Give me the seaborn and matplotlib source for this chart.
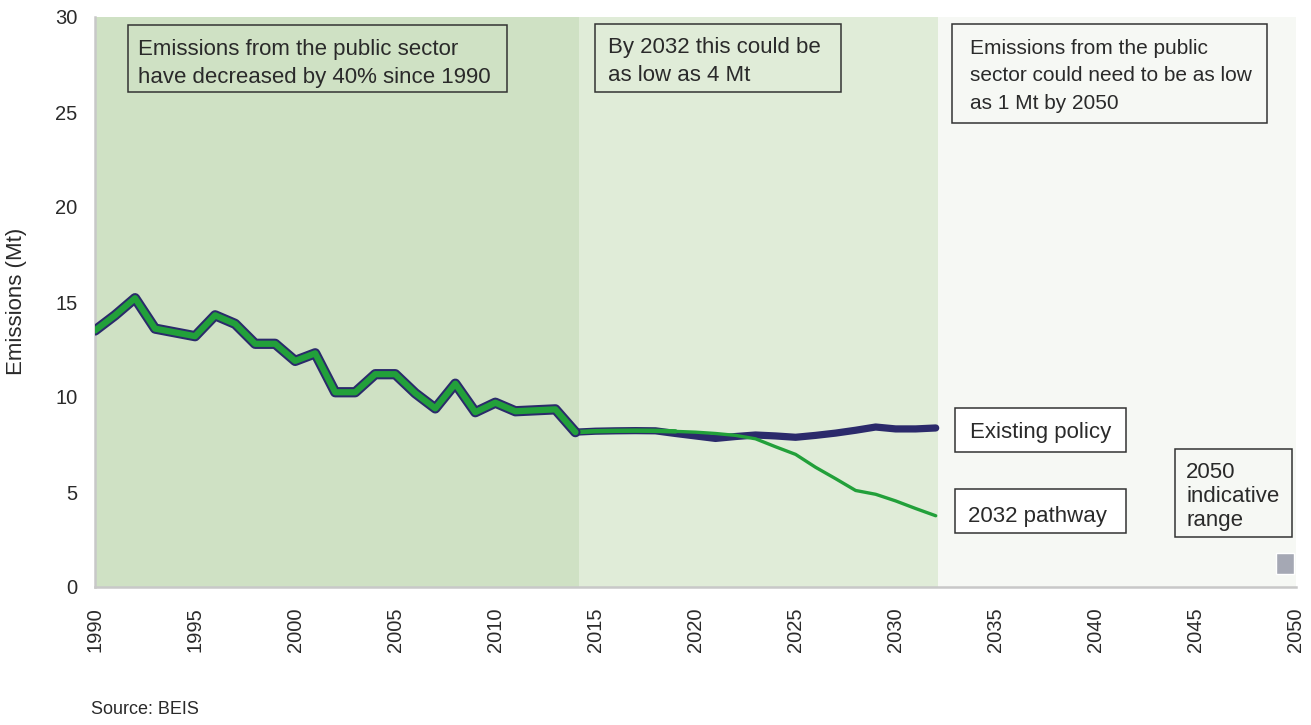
import numpy as np
import pandas as pd
import matplotlib
matplotlib.use("Agg")
import matplotlib.pyplot as plt
import matplotlib.patheffects as pe
import seaborn as sns

# ---- data ----
hist_years = list(range(1990, 2015))
hist_values = [13.5, 14.3, 15.2, 13.6, 13.4, 13.2, 14.3, 13.85, 12.8, 12.8,
               11.9, 12.3, 10.25, 10.25, 11.2, 11.2, 10.2, 9.4, 10.7, 9.2,
               9.7, 9.25, 9.3, 9.35, 8.15]
proj_years = list(range(2014, 2033))
existing_policy = [8.15, 8.2, 8.22, 8.23, 8.22, 8.08, 7.95, 7.82, 7.92, 8.0,
                   7.95, 7.88, 7.98, 8.1, 8.25, 8.42, 8.32, 8.32, 8.37]
pathway_2032 = [8.15, 8.2, 8.22, 8.23, 8.22, 8.19, 8.15, 8.08, 7.98, 7.8,
                7.38, 6.98, 6.3, 5.7, 5.08, 4.88, 4.53, 4.13, 3.75]
range_year = 2049.45
range_low = 0.7
range_high = 1.8
x_ticks = list(range(1990, 2051, 5))
y_ticks = list(range(0, 31, 5))

GREEN = "#22a03a"
NAVY = "#2b2a6b"
TEXT = "#2a2a2a"
GRID = "#c8c8c8"

sns.set_theme(style="white")
plt.rcParams["font.family"] = ["Liberation Sans", "DejaVu Sans"]

W, H = 1311, 725
fig = plt.figure(figsize=(W/100, H/100), dpi=100)
ax = fig.add_axes([95/W, 1-587/H, (1296-95)/W, (587-17)/H])

# background regions
ax.axvspan(1990, 2014.2, color="#cfe1c4", lw=0, zorder=0)
ax.axvspan(2014.2, 2032.1, color="#e0ecd8", lw=0, zorder=0)
ax.axvspan(2032.1, 2050, color="#f6f8f4", lw=0, zorder=0)

hist_df = pd.DataFrame({"year": hist_years, "value": hist_values})
proj_df = pd.DataFrame({"year": proj_years, "existing": existing_policy,
                        "pathway": pathway_2032})

# existing policy (navy thick)
sns.lineplot(data=proj_df, x="year", y="existing", ax=ax, color=NAVY,
             lw=5.2, solid_capstyle="round", solid_joinstyle="round", zorder=3)
# pathway (green thin)
sns.lineplot(data=proj_df, x="year", y="pathway", ax=ax, color=GREEN,
             lw=2.4, solid_joinstyle="round", zorder=4)
# start of projection segment slightly thicker green
sns.lineplot(data=proj_df.iloc[:6], x="year", y="pathway", ax=ax, color=GREEN,
             lw=3.2, solid_joinstyle="round", zorder=4.5)
# historical (green with navy outline)
sns.lineplot(data=hist_df, x="year", y="value", ax=ax, color=GREEN,
             lw=4.5, solid_joinstyle="round", solid_capstyle="round", zorder=5,
             path_effects=[pe.Stroke(linewidth=7.4, foreground=NAVY), pe.Normal()])

# 2050 indicative range
ax.bar([range_year], [range_high - range_low], bottom=[range_low], width=0.9,
       color="#a5a8b4", zorder=3)

ax.set_xlim(1990, 2050)
ax.set_ylim(0, 30)
ax.set_xticks(x_ticks)
ax.set_xticklabels([str(t) for t in x_ticks], rotation=90, fontsize=14.5, color=TEXT)
ax.set_yticks(y_ticks)
ax.set_yticklabels([str(t) for t in y_ticks], fontsize=14.5, color=TEXT)
ax.tick_params(axis="both", length=6.5, width=1.6, color=GRID, direction="out")
ax.tick_params(axis="y", pad=6)
ax.tick_params(axis="x", pad=8)
ax.set_xlabel("")
ax.set_ylabel("")
for s in ["top", "right"]:
    ax.spines[s].set_visible(False)
for s in ["left", "bottom"]:
    ax.spines[s].set_color(GRID)
    ax.spines[s].set_linewidth(1.8)
ax.grid(False)

fig.text(17/W, 1-301/H, "Emissions (Mt)", rotation=90, ha="center", va="center",
         fontsize=16, color=TEXT)

def box(x0, y0, x1, y1, text, face, tx, ty, ls=1.46, fs=16):
    fx0, fx1 = x0/W, x1/W
    fy0, fy1 = 1-y1/H, 1-y0/H
    r = plt.Rectangle((fx0, fy0), fx1-fx0, fy1-fy0, transform=fig.transFigure,
                      facecolor=face, edgecolor="#333333", lw=1.1, zorder=10)
    fig.patches.append(r)
    fig.text((x0+tx)/W, 1-(y0+ty)/H, text, ha="left", va="top",
             fontsize=fs, color=TEXT, linespacing=ls, zorder=11)

box(128, 25, 507, 92, "Emissions from the public sector\nhave decreased by 40% since 1990", "#cfe1c4", 10, 14)
box(595, 24, 841, 92, "By 2032 this could be\nas low as 4 Mt", "#e0ecd8", 13, 13)
box(952, 24, 1267, 123, "Emissions from the public\nsector could need to be as low\nas 1 Mt by 2050", "#f6f8f4", 18, 15, ls=1.56, fs=15)
box(955, 408, 1126, 452, "Existing policy", "white", 15, 14)
box(955, 489, 1126, 533, "2032 pathway", "white", 13, 17)
box(1175, 449, 1292, 537, "2050\nindicative\nrange", "#f6f8f4", 11, 13, ls=1.2)

fig.text(91/W, 1-710/H, "Source: BEIS", fontsize=13, color=TEXT, ha="left", va="center")

fig.savefig("out.png", dpi=100)
